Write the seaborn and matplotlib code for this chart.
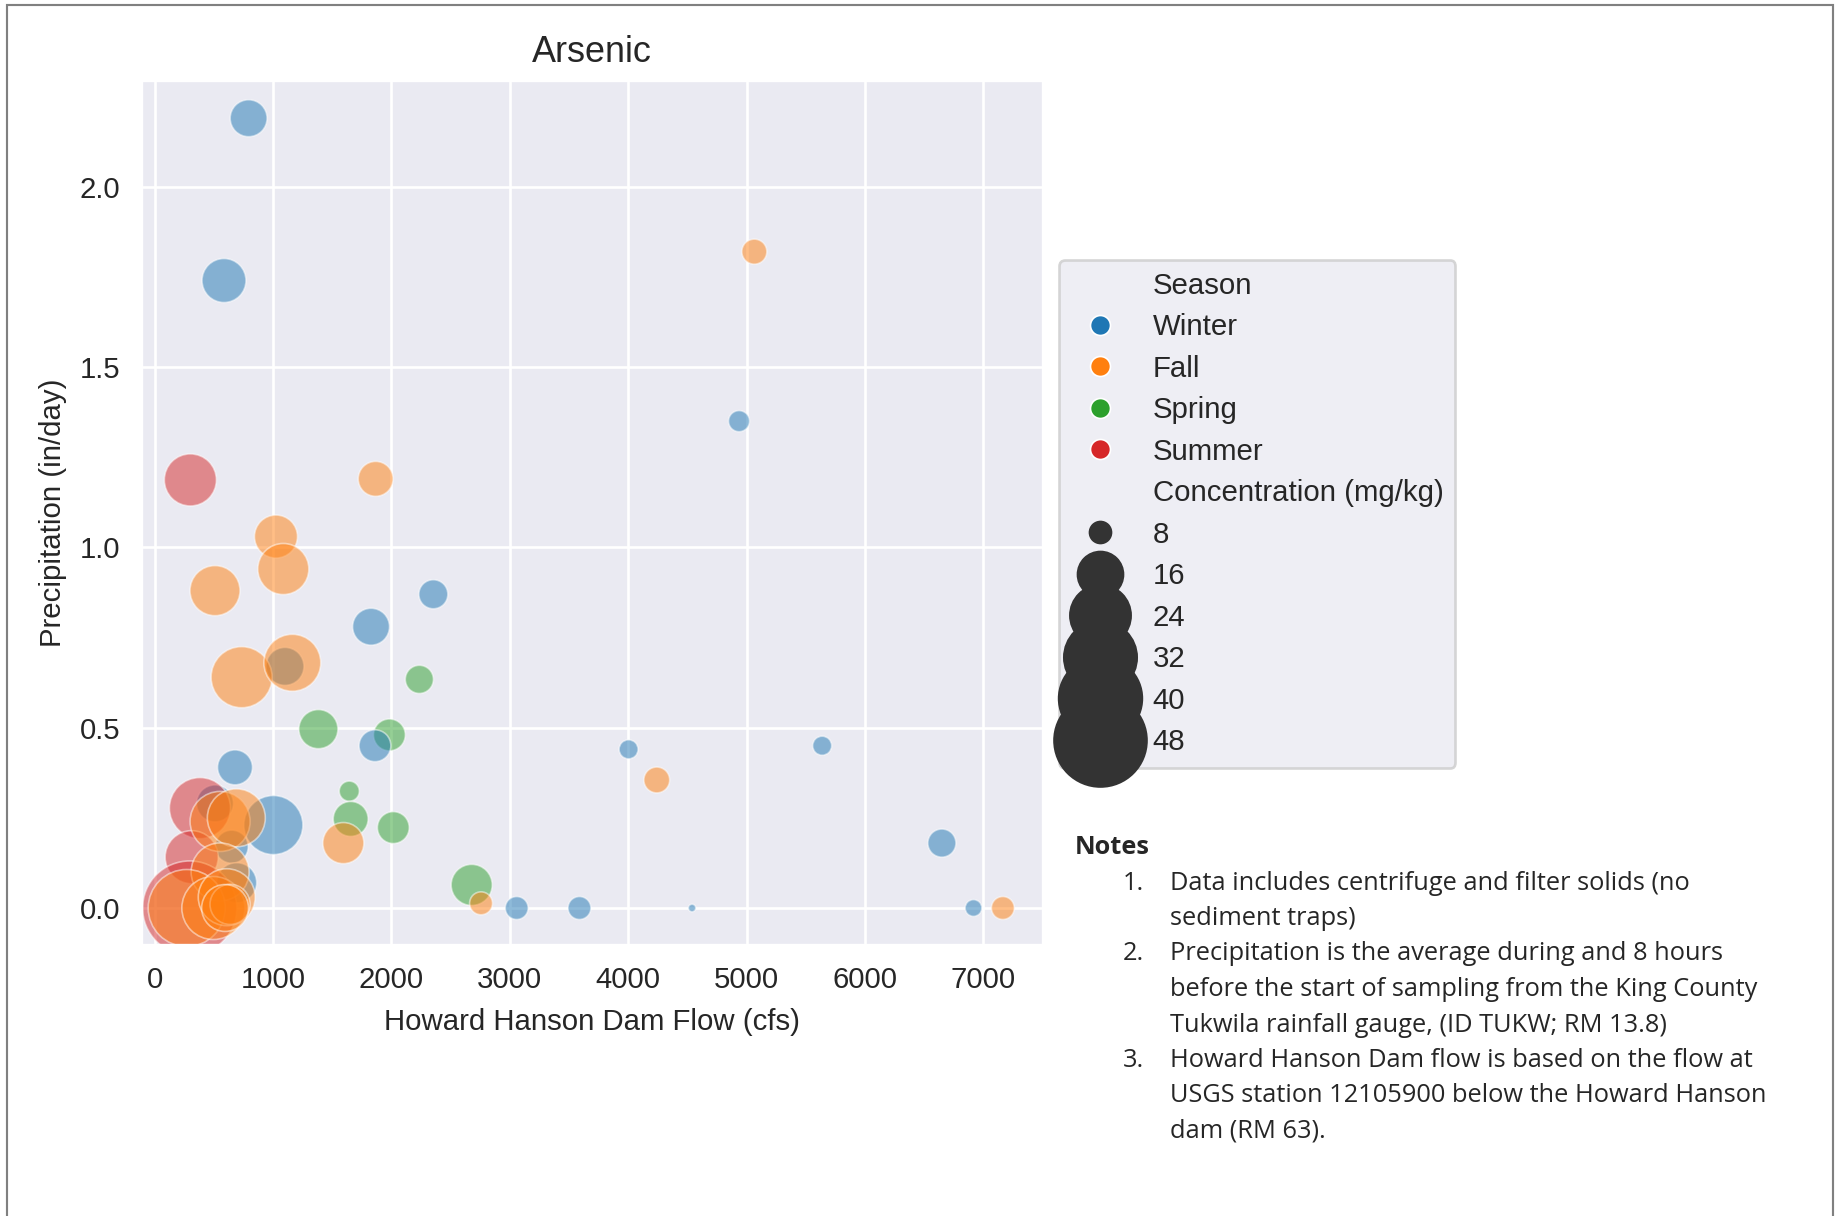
import matplotlib
matplotlib.use("Agg")
import matplotlib.pyplot as plt
import pandas as pd
import seaborn as sns
from matplotlib.patches import Rectangle

# Sampling events, listed in plotting order
season = (["Spring"] * 7 + ["Winter"] * 19 + ["Summer"] * 4 + ["Fall"] * 19)
flow = [
    # Spring
    2236, 1383, 1983, 1644, 1656, 2016, 2678,
    # Winter
    794, 586, 4936, 2354, 1828, 1861, 4003, 5638, 679, 1003,
    6649, 3058, 3588, 4539, 6916, 1101, 510, 651, 693,
    # Summer
    302, 383, 313, 296,
    # Fall
    5065, 1867, 1025, 1087, 510, 735, 1163, 4241, 1594, 2757,
    7164, 553, 690, 553, 271, 496, 609, 637, 595,
]
precip = [
    # Spring
    0.634, 0.496, 0.480, 0.324, 0.247, 0.223, 0.064,
    # Winter
    2.19, 1.74, 1.35, 0.87, 0.78, 0.45, 0.44, 0.45, 0.39, 0.23,
    0.18, 0.0, 0.0, 0.0, 0.0, 0.67, 0.29, 0.17, 0.07,
    # Summer
    1.187, 0.277, 0.141, 0.0,
    # Fall
    1.82, 1.19, 1.03, 0.94, 0.88, 0.64, 0.68, 0.355, 0.18, 0.013,
    0.0, 0.24, 0.25, 0.10, 0.0, 0.0, 0.03, 0.01, 0.0,
]
conc = [
    # Spring
    9.5, 13.1, 10.6, 7.6, 11.6, 10.6, 13.9,
    # Winter
    12.3, 15.1, 7.8, 9.75, 12.3, 10.6, 7.4, 7.4, 11.6, 22.7,
    9.5, 8.2, 8.2, 5.9, 7.0, 12.7, 12.3, 11.0, 13.5,
    # Summer
    18.9, 23.9, 19.4, 49.0,
    # Fall
    8.7, 11.6, 14.7, 18.4, 17.9, 23.9, 21.5, 8.9, 13.9, 8.2,
    8.2, 23.3, 22.1, 22.1, 34.7, 25.1, 21.5, 13.5, 16.4,
]
season_order = ["Winter", "Fall", "Spring", "Summer"]

notes_lines = [
    ("1.", "Data includes centrifuge and filter solids (no"),
    ("", "sediment traps)"),
    ("2.", "Precipitation is the average during and 8 hours"),
    ("", "before the start of sampling from the King County"),
    ("", "Tukwila rainfall gauge, (ID TUKW; RM 13.8)"),
    ("3.", "Howard Hanson Dam flow is based on the flow at"),
    ("", "USGS station 12105900 below the Howard Hanson"),
    ("", "dam (RM 63)."),
]

df = pd.DataFrame({
    "Season": season,
    "Howard Hanson Dam Flow (cfs)": flow,
    "Precipitation (in/day)": precip,
    "Concentration (mg/kg)": conc,
})

sns.set_theme(style="darkgrid", context="poster", palette="tab10")
plt.rcParams["font.family"] = ["Liberation Sans", "DejaVu Sans"]

W, H, DPI = 1839, 1216, 96
fig = plt.figure(figsize=(W / DPI, H / DPI), dpi=DPI)
ax = fig.add_axes([141 / W, 1 - 945 / H, (1043 - 141) / W, (945 - 80) / H])

sns.scatterplot(
    data=df,
    x="Howard Hanson Dam Flow (cfs)",
    y="Precipitation (in/day)",
    hue="Season",
    hue_order=season_order,
    palette="tab10",
    size="Concentration (mg/kg)",
    sizes=(20, 5000),
    size_norm=(5.8, 49.2),
    alpha=0.5,
    ax=ax,
)
ax.set_xlim(-115, 7503)
ax.set_ylim(-0.1026, 2.296)
ax.set_title("Arsenic", fontsize=27, pad=13.5)
ax.set_xlabel(ax.get_xlabel(), fontsize=22, labelpad=11)
ax.set_ylabel(ax.get_ylabel(), fontsize=22, labelpad=9.5)

sns.move_legend(
    ax, "upper left",
    bbox_to_anchor=(1.0177, 0.792),
    borderaxespad=0,
    frameon=True,
    labelspacing=0.46,
)
leg = ax.get_legend()
labels = [t.get_text() for t in leg.get_texts()]
for h, lab in zip(leg.legend_handles, labels):
    if h is None:
        continue
    h.set_alpha(1.0)
    if lab in season_order:
        h.set_markersize(15)
    elif lab not in ("Season", "Concentration (mg/kg)"):
        h.set_color("#333333")
        h.set_markerfacecolor("#333333")
        h.set_markeredgecolor("#333333")

# Notes block beside the chart
note_font = ["Open Sans", "DejaVu Sans"]
fig.text(1075 / W, 1 - 847 / H, "Notes", fontsize=19, fontweight="bold",
         family=note_font, va="center", ha="left")
y0, dy = 883, 35.5
for i, (num, line) in enumerate(notes_lines):
    y = 1 - (y0 + i * dy) / H
    if num:
        fig.text(1123 / W, y, num, fontsize=19, family=note_font,
                 va="center", ha="left")
    fig.text(1170 / W, y, line, fontsize=19, family=note_font,
             va="center", ha="left")

# Page frame
fig.patches.append(Rectangle((7 / W, -0.05), (1833 - 7) / W, 1.05 - 5 / H,
                             transform=fig.transFigure, fill=False,
                             edgecolor="#808080", linewidth=1.6))

fig.savefig("out.png", dpi=DPI)
